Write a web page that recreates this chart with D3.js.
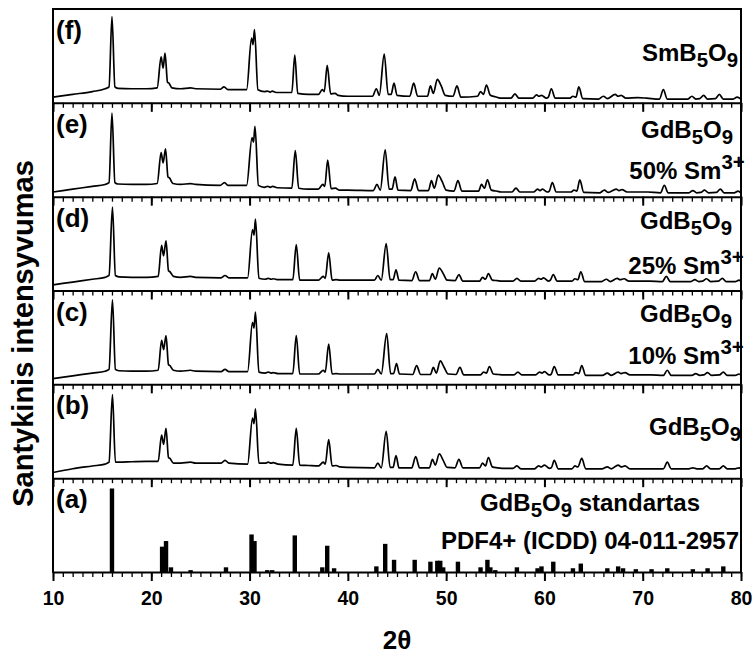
<!DOCTYPE html>
<html>
<head>
<meta charset="utf-8">
<script src="https://cdn.jsdelivr.net/npm/d3@7"></script>
<style>
  html, body { margin: 0; padding: 0; background: #fff; }
  svg { display: block; font-family: "Liberation Sans", Arial, sans-serif; font-weight: bold; }
</style>
</head>
<body>
<svg id="chart" width="755" height="654"></svg>
<script>
// ---- data: 2θ (deg) vs. relative intensity (% of panel height) ----
const panelIds = ["f", "e", "d", "c", "b", "a"];
const panelLetters = ["(f)", "(e)", "(d)", "(c)", "(b)", "(a)"];

// SmB5O9
const patternF = [[10,6],[12,9],[14,12],[15.3,15],[15.7,17],[16.0,92],[16.3,17],[16.6,15.5],[18,15],[19.5,15],[20.6,16],[21.0,49],[21.2,37],[21.4,53],[21.65,22],[21.8,21],[22.1,16],[23,15],[24,16],[24.5,15],[27,14.5],[27.4,17],[27.8,14],[29.7,14],[30.2,69],[30.35,62],[30.5,78],[30.85,14],[31.5,12],[31.8,12.5],[32.1,11.5],[32.3,12.5],[32.7,11],[34.3,11],[34.6,51],[34.9,10],[36,9],[37,9],[37.4,14],[37.6,12],[37.9,40],[38.25,9.5],[38.7,10],[39,8],[40,7],[42.5,7],[42.9,15],[43.2,8],[43.7,52],[44.1,9],[44.4,9],[44.7,21],[45.0,8],[46.3,7],[46.7,21],[47.1,7],[48.1,7],[48.4,18],[48.7,10],[49.1,25],[49.5,18],[49.9,8],[50.7,7],[51.1,18],[51.5,6],[53.2,7],[53.5,12],[53.8,9],[54.1,19],[54.5,8],[55,6.5],[55.5,5],[56.6,5],[57.0,9.5],[57.4,5],[58.8,5],[59.2,8.5],[59.45,7],[59.7,8],[60.2,5],[60.4,6],[60.7,15],[61.1,5],[62.6,5],[62.9,7],[63.2,6],[63.5,17],[63.9,4.5],[65.5,4],[66.0,7],[66.4,4.5],[67.2,9],[67.5,7],[67.8,8],[68.3,5],[69.5,5.5],[70.4,5],[71.7,4],[72.1,14],[72.5,4],[74.6,4],[75.0,7],[75.4,4],[75.8,4.5],[76.2,8],[76.6,4],[77.4,4.5],[77.8,9],[78.2,4],[79.2,4],[79.6,6],[80,4]];

// GdB5O9 : 50% Sm3+
const patternE = [[10,5],[12,8],[14,11],[15.3,13],[15.7,15],[16.0,89],[16.3,15],[16.6,13.5],[18,13],[19.5,13],[20.6,14],[21.0,47],[21.2,36],[21.45,51],[21.7,21],[21.85,20],[22.2,14],[23,13],[24,14],[24.5,13],[27,12],[27.45,15],[27.8,12],[29.7,12],[30.25,63],[30.4,58],[30.55,75],[30.9,12],[31.5,10],[31.85,11],[32.1,10],[32.35,11],[32.8,9.5],[34.3,9],[34.65,49],[35.0,9],[36,8],[37,8],[37.45,13],[37.65,11],[37.95,39],[38.3,8.5],[38.75,9],[39.1,7],[40,7],[42.6,6.5],[42.95,13],[43.3,7],[43.8,50],[44.2,8],[44.5,8],[44.8,21],[45.1,7],[46.4,6.5],[46.8,19],[47.2,6.5],[48.2,6.5],[48.5,17],[48.8,9],[49.2,23],[49.6,16],[50,7],[50.8,6],[51.2,17],[51.6,6],[53.3,6],[53.6,13],[53.9,9],[54.2,18],[54.6,7],[55.1,6],[55.6,5],[56.7,5],[57.1,9],[57.5,5],[58.9,5],[59.3,8],[59.55,6.5],[59.8,8],[60.3,5],[60.5,6],[60.8,15],[61.2,5],[62.7,5],[63.0,7],[63.3,6],[63.6,18],[64.0,4.5],[65.6,4],[66.1,7],[66.5,4.5],[67.3,8],[67.6,6.5],[67.9,7.5],[68.4,5],[69.6,5],[70.5,5],[71.8,4],[72.2,12],[72.6,4],[74.7,4],[75.1,6.5],[75.5,4],[75.9,4.5],[76.3,7],[76.7,4],[77.5,4.5],[77.9,8],[78.3,4],[79.3,4],[79.7,6],[80,4]];

// GdB5O9 : 25% Sm3+
const patternD = [[10,6],[12,9],[14,12],[15.3,14],[15.7,16],[16.05,89],[16.35,16],[16.7,14.5],[18,14],[19.5,14],[20.7,15],[21.05,48],[21.25,37],[21.5,53],[21.75,21],[21.9,20],[22.25,15],[23,14],[24,15],[24.5,14],[27.1,13.5],[27.5,16],[27.9,13.5],[29.8,13.5],[30.3,65],[30.45,59],[30.6,76],[30.95,13],[31.6,12],[31.9,13],[32.2,12],[32.4,12.5],[32.9,11.5],[34.4,11.5],[34.75,49],[35.1,11],[36,11],[37,11],[37.5,15],[37.7,13],[38.05,40],[38.4,11],[38.8,11.5],[39.2,11],[40,11],[42.7,11],[43.05,16],[43.4,11],[43.9,50],[44.3,11.5],[44.6,11.5],[44.9,22],[45.2,11],[46.5,10.5],[46.9,20],[47.3,10.5],[48.3,10.5],[48.6,18],[48.9,12],[49.3,24],[49.7,18],[50.1,11],[50.9,10.5],[51.3,17],[51.7,10],[53.4,10],[53.7,14],[54.0,12],[54.3,18],[54.7,11],[55.2,10.5],[55.7,10],[56.8,10],[57.2,13],[57.6,10],[59.0,10],[59.4,13],[59.65,12],[59.9,13.5],[60.4,10],[60.6,11],[60.9,17],[61.3,10],[62.8,10],[63.1,12.5],[63.4,11.5],[63.7,20],[64.1,9.5],[65.8,9.5],[66.3,12],[66.7,9.5],[67.4,13],[67.7,11.5],[68.1,12.5],[68.6,10],[69.8,10],[70.7,10],[72.0,9.5],[72.4,15],[72.8,9.5],[74.9,9.5],[75.3,11.5],[75.7,9.5],[76.1,10],[76.5,12.5],[76.9,9.5],[77.7,10],[78.1,13],[78.5,9.5],[79.4,9.5],[79.8,11],[80,9.5]];

// GdB5O9 : 10% Sm3+
const patternC = [[10,6],[12,9],[14,12],[15.3,14],[15.7,16],[16.05,90],[16.35,16],[16.7,14.5],[18,14],[19.5,14],[20.7,15],[21.05,47],[21.25,37],[21.5,52],[21.75,21],[21.9,20],[22.25,15],[23,14],[24,15],[24.5,14],[27.1,13.5],[27.5,16],[27.9,13.5],[29.8,13.5],[30.3,66],[30.45,60],[30.6,77],[30.95,13],[31.6,12],[31.9,13],[32.2,12],[32.4,12.5],[32.9,11.5],[34.4,11.5],[34.75,52],[35.1,11],[36,11],[37,11],[37.5,15],[37.7,13],[38.05,43],[38.4,11],[38.8,11.5],[39.2,11],[40,11],[42.7,11],[43.05,16],[43.4,11],[43.95,54],[44.35,11.5],[44.65,11.5],[44.95,22],[45.25,11],[46.6,10.5],[47.0,20],[47.4,10.5],[48.4,10.5],[48.7,18],[49.0,12],[49.4,25],[49.8,18],[50.2,11],[51.0,10.5],[51.4,18],[51.8,10],[53.5,10],[53.8,13],[54.1,12],[54.4,19],[54.8,11],[55.3,10.5],[55.8,10],[56.9,10],[57.3,13],[57.7,10],[59.1,10],[59.5,13],[59.75,12],[60.0,13.5],[60.5,10],[60.7,11],[61.0,19],[61.4,10],[62.9,10],[63.2,12.5],[63.5,11.5],[63.8,20],[64.2,9.5],[65.9,9.5],[66.4,12],[66.8,9.5],[67.5,13],[67.8,11.5],[68.2,12.5],[68.7,10],[69.9,10],[70.8,10],[72.1,9.5],[72.5,15],[72.9,9.5],[75.0,9.5],[75.4,11.5],[75.8,9.5],[76.2,10],[76.6,12.5],[77.0,9.5],[77.8,10],[78.2,13],[78.6,9.5],[79.4,9.5],[79.8,11],[80,9.5]];

// GdB5O9
const patternB = [[10,6],[12,10],[14,13],[15.3,15],[15.7,17],[16.05,89],[16.35,17],[16.7,17],[18,17.5],[19.5,18],[20.7,18],[21.05,46],[21.25,36],[21.5,53],[21.75,22],[21.9,21],[22.25,16],[23,16],[24,17],[24.5,16],[27.1,16],[27.5,19],[27.9,16],[29.8,15],[30.3,64],[30.45,58],[30.6,74],[30.95,16],[31.6,16],[31.9,17],[32.2,16],[32.4,16.5],[32.9,15],[34.4,14],[34.75,53],[35.1,14],[36,13.5],[37,13],[37.5,17],[37.7,15],[38.05,41],[38.4,13],[38.8,13.5],[39.2,12],[40,11.5],[42.7,11],[43.05,16],[43.4,11],[43.9,50],[44.3,11.5],[44.6,11.5],[44.9,24],[45.2,11],[46.5,11],[46.9,23],[47.3,11],[48.3,11],[48.6,20],[48.9,14],[49.3,26],[49.7,19],[50.1,11.5],[50.9,11],[51.3,20],[51.7,11],[53.4,11],[53.7,16],[54.0,13],[54.3,22],[54.7,12],[55.2,11],[55.7,10.5],[56.8,10.5],[57.2,13],[57.6,10],[59.0,10],[59.4,13],[59.7,12],[60.0,14],[60.5,10.5],[60.7,11],[61.0,19],[61.4,10],[62.8,10],[63.1,13],[63.4,12],[63.8,21],[64.2,10],[65.9,10],[66.4,12],[66.8,10],[67.5,14],[67.8,12],[68.2,13],[68.7,10],[69.8,10],[70.7,10],[72.1,10],[72.5,17],[72.9,10],[74.7,10],[75.1,11],[75.5,10],[76.1,10],[76.5,13],[76.9,10],[77.8,10],[78.2,13],[78.6,10],[79.4,10],[79.8,11],[80,10]];

// GdB5O9 reference lines, PDF4+ (ICDD) 04-011-2957
const refPositions   = [16.0, 21.1, 21.5, 22.0, 24.0, 27.6, 30.2, 30.5, 31.8, 32.3, 34.6, 37.4, 37.9, 38.6, 42.9, 43.8, 44.7, 46.8, 48.4, 49.1, 49.4, 49.7, 51.2, 53.5, 54.2, 54.5, 55.0, 57.2, 59.3, 59.7, 60.9, 62.9, 63.7, 66.4, 67.5, 68.0, 69.3, 70.9, 72.5, 75.1, 76.6, 78.2];
const refIntensities = [89, 27, 33, 5, 2, 5, 40, 33, 2, 2, 39, 5, 28, 4, 6, 30, 13, 13, 11, 12, 12, 5, 11, 5, 13, 5, 2, 5, 4, 6, 11, 4, 9, 4, 6, 4, 3, 3, 4, 3, 4, 6];

const patterns = [patternF, patternE, patternD, patternC, patternB];

// right-hand labels: [text, kind] runs; kind "" | "sub" | "sup"
const sampleLabels = [
  [[["SmB",""],["5","sub"],["O",""],["9","sub"]]],
  [[["GdB",""],["5","sub"],["O",""],["9","sub"]], [["50% Sm",""],["3+","sup"]]],
  [[["GdB",""],["5","sub"],["O",""],["9","sub"]], [["25% Sm",""],["3+","sup"]]],
  [[["GdB",""],["5","sub"],["O",""],["9","sub"]], [["10% Sm",""],["3+","sup"]]],
  [[["GdB",""],["5","sub"],["O",""],["9","sub"]]],
  [[["GdB",""],["5","sub"],["O",""],["9","sub"],[" standartas",""]], [["PDF4+ (ICDD) 04-011-2957",""]]]
];

const xMajorTicks = [10, 20, 30, 40, 50, 60, 70, 80];
const xMinorTicks = d3.range(10, 81, 1);
const xTitle = "2θ";
const yTitle = "Santykinis intensyvumas";

// ---- layout ----
const svg = d3.select("#chart");
const plotLeft = 53, plotRight = 741, plotTop = 9, plotBottom = 572;
const panelH = (plotBottom - plotTop) / panelIds.length;

const x = d3.scaleLinear().domain([10, 80]).range([plotLeft, plotRight]);
const panelY = i => d3.scaleLinear().domain([0, 100])
  .range([plotTop + (i + 1) * panelH, plotTop + i * panelH]);

// label placement per panel: centre x, baseline offsets from panel top
const labelLayout = [
  { cx: 690, dy: [52] },
  { cx: 687, dy: [35, 76] },
  { cx: 686, dy: [32, 77] },
  { cx: 686, dy: [31, 73] },
  { cx: 695, dy: [51] },
  { cx: 590, dy: [33, 71] }
];

const line = d3.line()
  .x(d => x(d[0]))
  .y(d => d.y)
  .curve(d3.curveMonotoneX);

function drawRuns(g, runs, cx, baseline, size) {
  const t = g.append("text")
    .attr("x", cx).attr("y", baseline)
    .attr("text-anchor", "middle")
    .attr("font-size", size)
    .attr("fill", "#000");
  let shift = 0;
  runs.forEach(([txt, kind]) => {
    const target = kind === "sub" ? 6 : kind === "sup" ? -10 : 0;
    t.append("tspan")
      .attr("dy", target - shift)
      .attr("font-size", kind ? size * 0.85 : size)
      .text(txt);
    shift = target;
  });
}

panelIds.forEach((id, i) => {
  const y = panelY(i);
  const g = svg.append("g").attr("class", "panel-" + id);
  const top = plotTop + i * panelH;
  const bottom = top + panelH;

  if (i < patterns.length) {
    const pts = patterns[i].map(d => Object.assign([d[0], d[1]], { y: y(d[1]) }));
    g.append("path")
      .attr("d", line(pts))
      .attr("fill", "none")
      .attr("stroke", "#000")
      .attr("stroke-width", 1.7)
      .attr("stroke-linejoin", "round");
  } else {
    g.selectAll("rect.ref")
      .data(refPositions.map((p, k) => [p, refIntensities[k]]))
      .join("rect")
      .attr("class", "ref")
      .attr("x", d => x(d[0]) - 2.2)
      .attr("width", 4.4)
      .attr("y", d => y(d[1]))
      .attr("height", d => y(0) - y(d[1]))
      .attr("fill", "#000");
  }

  // bottom axis of the panel: minor and major ticks pointing down
  const minor = d3.axisBottom(x).tickValues(xMinorTicks).tickSize(5).tickSizeOuter(0).tickFormat("");
  const major = d3.axisBottom(x).tickValues(xMajorTicks).tickSize(9).tickSizeOuter(0)
    .tickFormat(i === panelIds.length - 1 ? d3.format("d") : "");
  const gMinor = svg.append("g").attr("transform", `translate(0,${bottom})`).call(minor);
  gMinor.select(".domain").attr("stroke-width", 2);
  gMinor.selectAll(".tick line").attr("stroke-width", 1.3);
  const gMajor = svg.append("g").attr("transform", `translate(0,${bottom})`).call(major);
  gMajor.select(".domain").remove();
  gMajor.selectAll(".tick line").attr("stroke-width", 2);
  gMajor.selectAll(".tick text")
    .attr("font-family", "\"Liberation Sans\", Arial, sans-serif")
    .attr("font-weight", "bold")
    .attr("font-size", 19.5)
    .attr("fill", "#000")
    .attr("y", 19)
    .attr("dy", "0.71em");

  // panel letter
  g.append("text")
    .attr("x", plotLeft + 3).attr("y", top + 30)
    .attr("font-size", 26)
    .attr("fill", "#000")
    .text(panelLetters[i]);

  // sample label(s)
  sampleLabels[i].forEach((runs, k) => {
    drawRuns(g, runs, labelLayout[i].cx, top + labelLayout[i].dy[k], 24);
  });
});

// frame: top edge, left and right edges
svg.append("line").attr("x1", plotLeft).attr("x2", plotRight).attr("y1", plotTop).attr("y2", plotTop)
  .attr("stroke", "#000").attr("stroke-width", 2);
[plotLeft, plotRight].forEach(px => {
  svg.append("line").attr("x1", px).attr("x2", px).attr("y1", plotTop - 1).attr("y2", plotBottom + 1)
    .attr("stroke", "#000").attr("stroke-width", 2);
});

// axis titles
svg.append("text")
  .attr("x", (plotLeft + plotRight) / 2).attr("y", 649)
  .attr("text-anchor", "middle").attr("font-size", 26).attr("fill", "#000")
  .text(xTitle);
svg.append("text")
  .attr("transform", `translate(33,${(plotTop + plotBottom) / 2 + 43}) rotate(-90)`)
  .attr("text-anchor", "middle").attr("font-size", 29).attr("fill", "#000")
  .text(yTitle);
</script>
</body>
</html>
